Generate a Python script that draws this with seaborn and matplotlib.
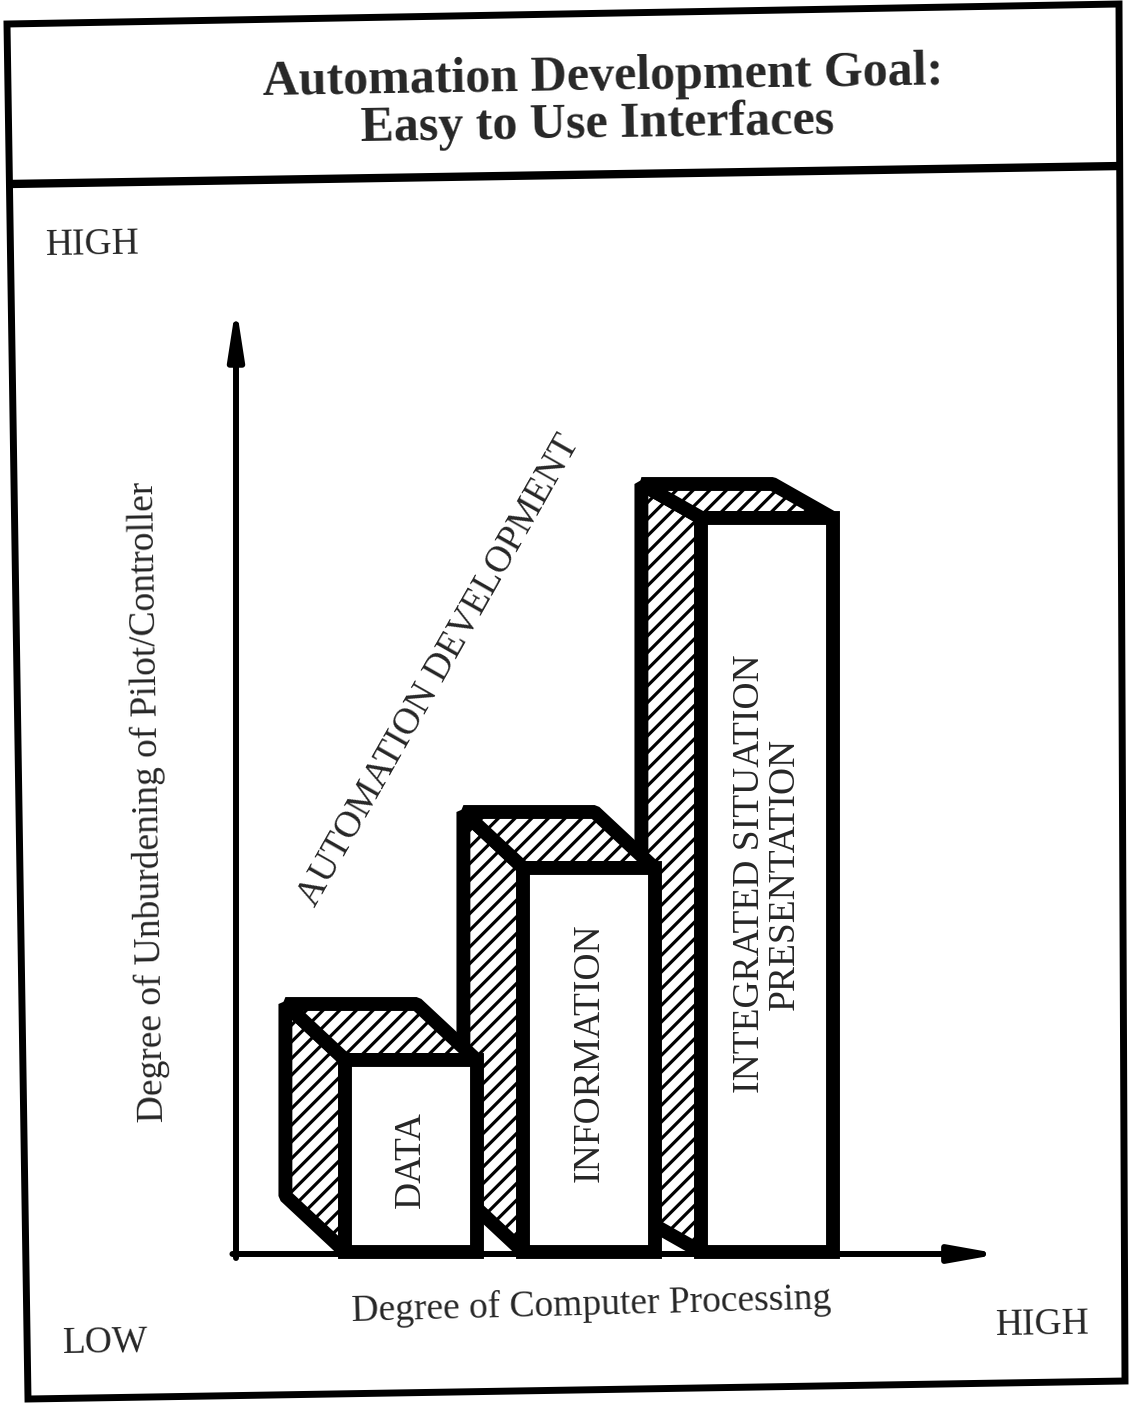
import matplotlib
matplotlib.use("Agg")
import matplotlib.pyplot as plt
import seaborn as sns
import pandas as pd
from matplotlib.patches import Polygon

# ---------------- data ----------------
categories = ["DATA", "INFORMATION", "INTEGRATED SITUATION\nPRESENTATION"]
unburdening = [1.92, 3.84, 7.34]          # bar heights (relative units)
title_lines = ["Automation Development Goal:", "Easy to Use Interfaces"]
x_axis_label = "Degree of Computer Processing"
y_axis_label = "Degree of Unburdening of Pilot/Controller"
diagonal_label = "AUTOMATION DEVELOPMENT"
low_label = "LOW"
high_label = "HIGH"

# ---------------- style ----------------
sns.set_theme(style="white")
plt.rcParams["font.family"] = ["Liberation Serif", "DejaVu Serif"]
plt.rcParams["hatch.linewidth"] = 2.3
plt.rcParams["hatch.color"] = "black"

W, H = 1132, 1405
fig = plt.figure(figsize=(W / 100, H / 100), dpi=100)
fig.patch.set_facecolor("white")

# background axes in pixel coordinates (frame + free texts)
bg = fig.add_axes([0, 0, 1, 1])
bg.set_xlim(0, W)
bg.set_ylim(H, 0)
bg.axis("off")

bg.add_patch(Polygon([(7, 24), (1119, 4), (1125, 1381), (28, 1399)], closed=True,
                     fill=False, lw=5, ec="black", joinstyle="miter"))
bg.plot([9, 1121], [184, 166], color="black", lw=6, solid_capstyle="butt")

TILT = 0.9
BODY = 27
bg.text(603, 90, title_lines[0], ha="center", va="baseline", fontsize=36,
        fontweight="bold", rotation=TILT, rotation_mode="anchor")
bg.text(598, 137, title_lines[1], ha="center", va="baseline", fontsize=36,
        fontweight="bold", rotation=TILT, rotation_mode="anchor")
bg.text(45, 245, high_label, ha="left", va="center", fontsize=BODY, rotation=TILT)
bg.text(148, 802, y_axis_label, ha="center", va="center", fontsize=BODY,
        rotation=90 + TILT, rotation_mode="anchor")
bg.text(439, 670, diagonal_label, ha="center", va="center", fontsize=BODY,
        rotation=60.4, rotation_mode="anchor")
bg.text(591, 1305, x_axis_label, ha="center", va="center", fontsize=BODY,
        rotation=TILT + 0.6, rotation_mode="anchor")
bg.text(62, 1343, low_label, ha="left", va="center", fontsize=BODY, rotation=TILT)
bg.text(995, 1325, high_label, ha="left", va="center", fontsize=BODY, rotation=TILT)

# ---------------- chart axes ----------------
X0_PX, PX_PER_X = 411, 178      # category 0 centre, pixels per category
BASE_PX, PX_PER_Y = 1252, 100   # value 0, pixels per unit
L_PX, R_PX, B_PX, T_PX = 200, 1030, 1290, 280
ax = fig.add_axes([L_PX / W, (H - B_PX) / H, (R_PX - L_PX) / W, (B_PX - T_PX) / H])
ax.patch.set_alpha(0)

LW = 10
df = pd.DataFrame({"stage": categories, "value": unburdening})
sns.barplot(data=df, x="stage", y="value", ax=ax, color="white", saturation=1,
            width=0.737, edgecolor="black", linewidth=LW, errorbar=None)

ax.set_xlim((L_PX - X0_PX) / PX_PER_X, (R_PX - X0_PX) / PX_PER_X)
ax.set_ylim((BASE_PX - B_PX) / PX_PER_Y, (BASE_PX - T_PX) / PX_PER_Y)
ax.set_axis_off()

DX = -60 / PX_PER_X
DY = [0.56, 0.56, 0.34]
LABEL_FRAC = [0.48, 0.52, 0.515]
bars = list(ax.patches)
for i, p in enumerate(bars):
    x0, w, h = p.get_x(), p.get_width(), p.get_height()
    z = 10 - 3 * i
    p.set_zorder(z + 1)
    p.set_joinstyle("miter")
    side = Polygon([(x0, 0), (x0, h), (x0 + DX, h + DY[i]), (x0 + DX, DY[i])],
                   closed=True, fc="white", ec="black", lw=LW, hatch="//",
                   joinstyle="bevel", zorder=z)
    top = Polygon([(x0, h), (x0 + w, h), (x0 + w + DX, h + DY[i]), (x0 + DX, h + DY[i])],
                  closed=True, fc="white", ec="black", lw=LW, hatch="//",
                  joinstyle="bevel", zorder=z)
    ax.add_patch(side)
    ax.add_patch(top)
    ax.text(x0 + w / 2, h * LABEL_FRAC[i], categories[i], rotation=90, ha="center",
            va="center", fontsize=BODY, multialignment="center", linespacing=1.0,
            zorder=20)

xl = (236 - X0_PX) / PX_PER_X
x_tip = (1000 - X0_PX) / PX_PER_X
y_tip = (BASE_PX - 305) / PX_PER_Y
ax.annotate("", xy=(xl, y_tip), xytext=(xl, -0.06),
            arrowprops=dict(arrowstyle="-|>,head_length=2.9,head_width=0.45", lw=4.3,
                            color="black", shrinkA=0, shrinkB=0, mutation_scale=10),
            annotation_clip=False, zorder=15)
ax.annotate("", xy=(x_tip, -0.02), xytext=(xl - 0.02, -0.02),
            arrowprops=dict(arrowstyle="-|>,head_length=2.8,head_width=0.5", lw=4.3,
                            color="black", shrinkA=0, shrinkB=0, mutation_scale=10),
            annotation_clip=False, zorder=15)

fig.savefig("out.png", dpi=100, facecolor="white")
